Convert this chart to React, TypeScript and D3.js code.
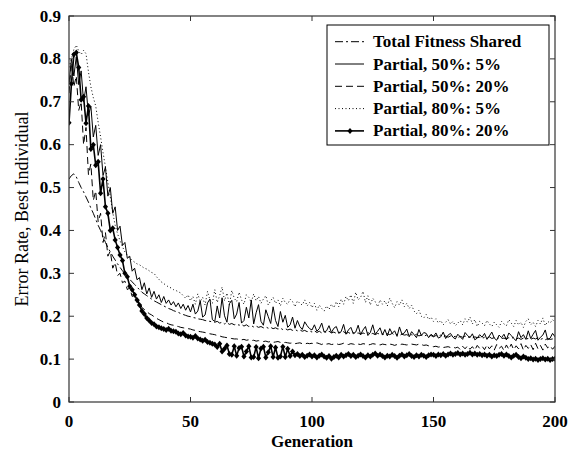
import * as d3 from "d3";

// Error rate of the best individual per generation (index = generation 0..200)
const totalFitnessShared = [
  0.520, 0.528, 0.532, 0.525, 0.512, 0.500, 0.490, 0.478, 0.466, 0.452,
  0.440, 0.426, 0.412, 0.400, 0.386, 0.372, 0.360, 0.350, 0.340, 0.331,
  0.322, 0.314, 0.306, 0.299, 0.292, 0.286, 0.280, 0.274, 0.268, 0.262,
  0.256, 0.252, 0.248, 0.244, 0.240, 0.236, 0.233, 0.230, 0.227, 0.224,
  0.221, 0.218, 0.216, 0.213, 0.211, 0.209, 0.206, 0.204, 0.202, 0.200,
  0.199, 0.197, 0.196, 0.194, 0.193, 0.192, 0.190, 0.189, 0.188, 0.187,
  0.186, 0.188, 0.184, 0.186, 0.182, 0.185, 0.181, 0.183, 0.180, 0.182,
  0.179, 0.181, 0.177, 0.180, 0.176, 0.178, 0.175, 0.177, 0.174, 0.176,
  0.173, 0.175, 0.172, 0.174, 0.171, 0.173, 0.170, 0.172, 0.169, 0.171,
  0.168, 0.170, 0.167, 0.169, 0.166, 0.168, 0.165, 0.167, 0.164, 0.166,
  0.163, 0.166, 0.162, 0.165, 0.161, 0.164, 0.162, 0.165, 0.161, 0.163,
  0.160, 0.163, 0.161, 0.164, 0.160, 0.162, 0.159, 0.162, 0.160, 0.161,
  0.158, 0.161, 0.159, 0.162, 0.158, 0.160, 0.157, 0.160, 0.158, 0.159,
  0.156, 0.159, 0.157, 0.160, 0.156, 0.158, 0.155, 0.158, 0.156, 0.157,
  0.154, 0.157, 0.155, 0.158, 0.154, 0.156, 0.153, 0.156, 0.154, 0.155,
  0.152, 0.155, 0.153, 0.156, 0.152, 0.154, 0.151, 0.154, 0.152, 0.153,
  0.150, 0.153, 0.151, 0.154, 0.150, 0.152, 0.149, 0.152, 0.150, 0.151,
  0.148, 0.151, 0.149, 0.152, 0.148, 0.150, 0.147, 0.150, 0.148, 0.149,
  0.147, 0.150, 0.148, 0.151, 0.147, 0.149, 0.146, 0.149, 0.147, 0.148,
  0.146, 0.149, 0.147, 0.150, 0.146, 0.148, 0.145, 0.148, 0.146, 0.147,
  0.147,
];

const partial50_5 = [
  0.742, 0.800, 0.760, 0.805, 0.740, 0.772, 0.700, 0.735, 0.668, 0.690,
  0.618, 0.645, 0.575, 0.600, 0.528, 0.548, 0.480, 0.500, 0.440, 0.455,
  0.400, 0.410, 0.365, 0.372, 0.335, 0.340, 0.305, 0.312, 0.285, 0.290,
  0.262, 0.278, 0.252, 0.266, 0.244, 0.258, 0.240, 0.250, 0.232, 0.246,
  0.230, 0.238, 0.226, 0.234, 0.222, 0.231, 0.218, 0.228, 0.214, 0.225,
  0.210, 0.228, 0.205, 0.212, 0.236, 0.198, 0.203, 0.231, 0.240, 0.192,
  0.188, 0.224, 0.196, 0.243, 0.201, 0.186, 0.229, 0.237, 0.194, 0.205,
  0.232, 0.184, 0.190, 0.221, 0.196, 0.238, 0.182, 0.208, 0.227, 0.188,
  0.179, 0.215, 0.199, 0.183, 0.222, 0.190, 0.176, 0.211, 0.186, 0.202,
  0.174, 0.180, 0.198, 0.172, 0.190, 0.176, 0.169, 0.187, 0.178, 0.171,
  0.168, 0.180, 0.165, 0.171, 0.184, 0.163, 0.166, 0.178, 0.162, 0.172,
  0.176, 0.160, 0.164, 0.181, 0.158, 0.168, 0.174, 0.159, 0.163, 0.179,
  0.157, 0.168, 0.176, 0.155, 0.162, 0.180, 0.158, 0.165, 0.173, 0.156,
  0.169, 0.154, 0.171, 0.160, 0.166, 0.153, 0.175, 0.158, 0.161, 0.170,
  0.152, 0.164, 0.157, 0.150, 0.169, 0.155, 0.162, 0.160, 0.150, 0.158,
  0.153, 0.161, 0.149, 0.152, 0.163, 0.148, 0.156, 0.160, 0.151, 0.147,
  0.158, 0.152, 0.146, 0.162, 0.155, 0.150, 0.159, 0.145, 0.149, 0.157,
  0.151, 0.160, 0.146, 0.154, 0.163, 0.149, 0.144, 0.156, 0.150, 0.158,
  0.145, 0.161, 0.155, 0.148, 0.143, 0.164, 0.150, 0.157, 0.146, 0.166,
  0.148, 0.158, 0.167, 0.144, 0.151, 0.156, 0.168, 0.145, 0.149, 0.160,
  0.152,
];

const partial50_20 = [
  0.720, 0.790, 0.735, 0.760, 0.680, 0.700, 0.600, 0.640, 0.530, 0.555,
  0.470, 0.492, 0.420, 0.440, 0.372, 0.395, 0.340, 0.352, 0.312, 0.325,
  0.295, 0.300, 0.278, 0.282, 0.262, 0.266, 0.246, 0.250, 0.232, 0.236,
  0.220, 0.216, 0.211, 0.206, 0.203, 0.199, 0.195, 0.192, 0.189, 0.186,
  0.185, 0.182, 0.180, 0.179, 0.177, 0.176, 0.174, 0.173, 0.172, 0.171,
  0.170, 0.168, 0.167, 0.165, 0.164, 0.163, 0.162, 0.160, 0.159, 0.158,
  0.157, 0.155, 0.154, 0.152, 0.151, 0.150, 0.149, 0.148, 0.147, 0.147,
  0.146, 0.145, 0.146, 0.144, 0.145, 0.143, 0.144, 0.142, 0.143, 0.142,
  0.141, 0.142, 0.140, 0.141, 0.139, 0.140, 0.141, 0.139, 0.138, 0.139,
  0.138, 0.137, 0.138, 0.136, 0.137, 0.138, 0.136, 0.135, 0.137, 0.136,
  0.137, 0.135, 0.138, 0.136, 0.134, 0.137, 0.135, 0.136, 0.134, 0.135,
  0.136, 0.134, 0.135, 0.137, 0.135, 0.134, 0.136, 0.135, 0.133, 0.135,
  0.134, 0.136, 0.135, 0.133, 0.134, 0.136, 0.135, 0.134, 0.133, 0.135,
  0.134, 0.133, 0.135, 0.134, 0.132, 0.134, 0.133, 0.135, 0.134, 0.133,
  0.134, 0.135, 0.134, 0.133, 0.135, 0.134, 0.132, 0.133, 0.131, 0.130,
  0.129, 0.130, 0.128, 0.129, 0.127, 0.128, 0.129, 0.127, 0.128, 0.126,
  0.128, 0.122, 0.130, 0.124, 0.131, 0.123, 0.129, 0.121, 0.132, 0.125,
  0.130, 0.122, 0.133, 0.124, 0.131, 0.121, 0.134, 0.125, 0.130, 0.120,
  0.133, 0.123, 0.135, 0.122, 0.131, 0.124, 0.136, 0.121, 0.132, 0.125,
  0.134, 0.122, 0.137, 0.124, 0.132, 0.121, 0.135, 0.126, 0.131, 0.123,
  0.130,
];

const partial80_5 = [
  0.780, 0.800, 0.822, 0.832, 0.818, 0.810, 0.820, 0.812, 0.770, 0.735,
  0.710, 0.690, 0.652, 0.618, 0.582, 0.548, 0.512, 0.478, 0.442, 0.412,
  0.392, 0.376, 0.362, 0.350, 0.342, 0.336, 0.330, 0.326, 0.322, 0.320,
  0.316, 0.312, 0.310, 0.306, 0.302, 0.300, 0.292, 0.286, 0.280, 0.276,
  0.272, 0.268, 0.266, 0.262, 0.260, 0.257, 0.254, 0.248, 0.242, 0.250,
  0.236, 0.246, 0.228, 0.252, 0.234, 0.244, 0.226, 0.258, 0.238, 0.230,
  0.262, 0.232, 0.248, 0.268, 0.236, 0.254, 0.226, 0.260, 0.242, 0.234,
  0.256, 0.238, 0.228, 0.250, 0.244, 0.232, 0.252, 0.236, 0.246, 0.230,
  0.240, 0.248, 0.226, 0.236, 0.244, 0.230, 0.238, 0.224, 0.242, 0.232,
  0.228, 0.240, 0.234, 0.222, 0.236, 0.230, 0.226, 0.238, 0.224, 0.232,
  0.220, 0.230, 0.214, 0.226, 0.218, 0.212, 0.224, 0.216, 0.228, 0.220,
  0.234, 0.222, 0.240, 0.228, 0.246, 0.236, 0.250, 0.230, 0.256, 0.238,
  0.244, 0.258, 0.232, 0.248, 0.226, 0.242, 0.234, 0.222, 0.238, 0.228,
  0.236, 0.224, 0.242, 0.230, 0.220, 0.234, 0.226, 0.238, 0.222, 0.230,
  0.218, 0.226, 0.212, 0.206, 0.214, 0.200, 0.196, 0.204, 0.192, 0.198,
  0.188, 0.194, 0.184, 0.190, 0.180, 0.186, 0.192, 0.182, 0.188, 0.178,
  0.184, 0.190, 0.180, 0.194, 0.186, 0.198, 0.182, 0.192, 0.176, 0.188,
  0.184, 0.178, 0.190, 0.182, 0.176, 0.186, 0.180, 0.174, 0.188, 0.182,
  0.178, 0.192, 0.184, 0.176, 0.190, 0.180, 0.186, 0.174, 0.188, 0.194,
  0.180, 0.186, 0.176, 0.190, 0.182, 0.196, 0.178, 0.188, 0.184, 0.192,
  0.186,
];

const partial80_20 = [
  0.651, 0.742, 0.810, 0.815, 0.780, 0.705, 0.712, 0.650, 0.690, 0.590,
  0.600, 0.552, 0.560, 0.487, 0.520, 0.455, 0.440, 0.400, 0.405, 0.378,
  0.360, 0.343, 0.330, 0.300, 0.292, 0.270, 0.262, 0.250, 0.238, 0.226,
  0.212, 0.205, 0.196, 0.190, 0.184, 0.181, 0.176, 0.174, 0.172, 0.170,
  0.168, 0.171, 0.166, 0.165, 0.164, 0.160, 0.158, 0.161, 0.155, 0.153,
  0.152, 0.150, 0.154, 0.148, 0.146, 0.143, 0.145, 0.140, 0.138, 0.136,
  0.134, 0.128, 0.136, 0.118, 0.124, 0.132, 0.112, 0.110, 0.130, 0.108,
  0.126, 0.129, 0.106, 0.118, 0.130, 0.104, 0.105, 0.128, 0.102, 0.125,
  0.129, 0.104, 0.116, 0.130, 0.105, 0.127, 0.103, 0.106, 0.129, 0.105,
  0.124, 0.107, 0.118, 0.109, 0.112, 0.107, 0.110, 0.105, 0.108, 0.111,
  0.106, 0.109, 0.104, 0.108, 0.111, 0.106, 0.103, 0.107, 0.101, 0.105,
  0.108, 0.104, 0.110, 0.106, 0.109, 0.112, 0.107, 0.110, 0.105, 0.108,
  0.111, 0.107, 0.104, 0.109, 0.106, 0.110, 0.113, 0.108, 0.111, 0.107,
  0.104, 0.108, 0.106, 0.110, 0.107, 0.103, 0.108, 0.111, 0.106, 0.109,
  0.112, 0.107, 0.105, 0.109, 0.106, 0.110, 0.108, 0.105, 0.109, 0.111,
  0.110, 0.107, 0.111, 0.109, 0.112, 0.108, 0.111, 0.113, 0.110, 0.112,
  0.114, 0.111, 0.113, 0.110, 0.112, 0.115, 0.111, 0.113, 0.110, 0.112,
  0.109, 0.111, 0.108, 0.110, 0.106, 0.109, 0.107, 0.110, 0.112, 0.108,
  0.111, 0.107, 0.104, 0.108, 0.110, 0.105, 0.102, 0.106, 0.103, 0.100,
  0.102, 0.099, 0.101, 0.098, 0.100, 0.102, 0.099, 0.101, 0.098, 0.100,
  0.101,
];

const seriesNames = [
  "Total Fitness Shared",
  "Partial, 50%: 5%",
  "Partial, 50%: 20%",
  "Partial, 80%: 5%",
  "Partial, 80%: 20%",
];
const xTicks = [0, 50, 100, 150, 200];
const yTicks = [0, 0.1, 0.2, 0.3, 0.4, 0.5, 0.6, 0.7, 0.8, 0.9];

const W = 578;
const H = 452;
const left = 69, right = 555, top = 16, bottom = 402;
const serif = '"Liberation Serif", "Times New Roman", serif';

const series = [
  { name: seriesNames[0], values: totalFitnessShared, dash: "8,3,2,3", width: 1, marker: false },
  { name: seriesNames[1], values: partial50_5, dash: "", width: 1, marker: false },
  { name: seriesNames[2], values: partial50_20, dash: "7,4", width: 1, marker: false },
  { name: seriesNames[3], values: partial80_5, dash: "1,2.5", width: 1, marker: false },
  { name: seriesNames[4], values: partial80_20, dash: "", width: 1.6, marker: true },
];

const diamond = (cx: number, cy: number) =>
  `M${cx},${cy - 3}L${cx + 2.6},${cy}L${cx},${cy + 3}L${cx - 2.6},${cy}Z`;

export default function App() {
  const x = d3.scaleLinear().domain([0, 200]).range([left, right]);
  const y = d3.scaleLinear().domain([0, 0.9]).range([bottom, top]);
  const line = d3
    .line<number>()
    .x((_, i) => x(i))
    .y((d) => y(d));

  const legendX = 327, legendY = 25;
  const rowH = 22.3;

  return (
    <svg
      width={W}
      height={H}
      style={{ position: "absolute", left: 0, top: 0, background: "#fff" }}
    >
      <rect x={0} y={0} width={W} height={H} fill="#fff" />
      <defs>
        <clipPath id="plot">
          <rect x={left} y={top - 4} width={right - left} height={bottom - top + 4} />
        </clipPath>
      </defs>

      <g clipPath="url(#plot)">
        {series.map((s) => (
          <g key={s.name}>
            <path
              d={line(s.values) || ""}
              fill="none"
              stroke="#000"
              strokeWidth={s.width}
              strokeDasharray={s.dash || undefined}
            />
            {s.marker &&
              s.values.map((v, i) => (
                <path key={i} d={diamond(x(i), y(v))} fill="#000" />
              ))}
          </g>
        ))}
      </g>

      {/* frame */}
      <rect x={left} y={top} width={right - left} height={bottom - top} fill="none" stroke="#333" strokeWidth={1.2} />

      {/* ticks */}
      {xTicks.map((t) => (
        <g key={"x" + t}>
          <line x1={x(t)} x2={x(t)} y1={bottom} y2={bottom - 5} stroke="#333" />
          <line x1={x(t)} x2={x(t)} y1={top} y2={top + 5} stroke="#333" />
          <text
            x={x(t)}
            y={427}
            textAnchor="middle"
            fontFamily={serif}
            fontWeight="bold"
            fontSize={17}
          >
            {t}
          </text>
        </g>
      ))}
      {yTicks.map((t) => (
        <g key={"y" + t}>
          <line x1={left} x2={left + 5} y1={y(t)} y2={y(t)} stroke="#333" />
          <line x1={right} x2={right - 5} y1={y(t)} y2={y(t)} stroke="#333" />
          <text
            x={61}
            y={y(t) + 5.5}
            textAnchor="end"
            fontFamily={serif}
            fontWeight="bold"
            fontSize={17}
          >
            {t === 0 ? "0" : d3.format(".1f")(t)}
          </text>
        </g>
      ))}

      <text
        x={(left + right) / 2}
        y={447}
        textAnchor="middle"
        fontFamily={serif}
        fontWeight="bold"
        fontSize={17}
      >
        Generation
      </text>
      <text
        transform={`translate(28,${(top + bottom) / 2}) rotate(-90)`}
        textAnchor="middle"
        fontFamily={serif}
        fontSize={18}
      >
        Error Rate, Best Individual
      </text>

      {/* legend */}
      <rect x={legendX} y={legendY} width={222} height={120} fill="#fff" stroke="#000" strokeWidth={1} />
      {series.map((s, i) => {
        const cy = 41.7 + i * rowH;
        return (
          <g key={"lg" + s.name}>
            <line
              x1={335}
              x2={364}
              y1={cy}
              y2={cy}
              stroke="#000"
              strokeWidth={s.width}
              strokeDasharray={s.dash || undefined}
            />
            {s.marker && <path d={diamond(350, cy)} fill="#000" />}
            <text
              x={373}
              y={cy + 5.5}
              fontFamily={serif}
              fontWeight="bold"
              fontSize={17}
            >
              {s.name}
            </text>
          </g>
        );
      })}
    </svg>
  );
}
